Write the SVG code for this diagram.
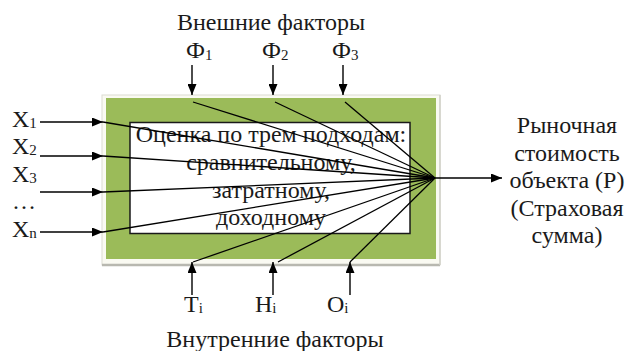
<svg xmlns="http://www.w3.org/2000/svg" width="627" height="351" viewBox="0 0 627 351">
  <defs>
    <marker id="ah" markerUnits="userSpaceOnUse" markerWidth="11" markerHeight="9" refX="11" refY="4.5" orient="auto">
      <path d="M0,0 L11,4.5 L0,9 z" fill="#000"/>
    </marker>
    <style>
      text { font-family: "Liberation Serif", "Times New Roman", serif; font-size: 24px; fill: #1a1a1a; }
      .c { text-anchor: middle; }
      .sub { font-size: 15px; }
      .arrow { stroke: #000; stroke-width: 1.4; fill: none; marker-end: url(#ah); }
      .ray { stroke: #000; stroke-width: 1.3; fill: none; }
    </style>
  </defs>
  <rect x="0" y="0" width="627" height="351" fill="#ffffff"/>

  <g id="evaluation-box">
    <rect x="102" y="95" width="338" height="170" fill="#fafaf2" stroke="#dcdcd2" stroke-width="1"/>
    <line x1="102" y1="265" x2="440" y2="265" stroke="#b8b8b0" stroke-width="2.5"/>
    <line x1="440" y1="95" x2="440" y2="265" stroke="#d0d0c8" stroke-width="1.5"/>
    <rect x="106" y="98" width="330" height="161" fill="#9bbb59"/>
    <rect x="130" y="122.5" width="280" height="111" fill="#ffffff" stroke="#1a1a1a" stroke-width="1.5"/>
    <text class="c" x="271" y="142">Оценка по трем подходам:</text>
    <text class="c" x="271" y="170">сравнительному,</text>
    <text class="c" x="271" y="198">затратному,</text>
    <text class="c" x="271" y="225">доходному</text>
  </g>

  <g id="external-factors">
    <text class="c" x="271" y="30">Внешние факторы</text>
    <text x="186" y="58">Ф<tspan class="sub" dy="2">1</tspan></text>
    <text x="262" y="58">Ф<tspan class="sub" dy="2">2</tspan></text>
    <text x="332" y="58">Ф<tspan class="sub" dy="2">3</tspan></text>
  </g>

  <g id="internal-factors">
    <text x="184" y="312">Т<tspan class="sub" dy="1">i</tspan></text>
    <text x="255" y="312">Н<tspan class="sub" dy="1">i</tspan></text>
    <text x="327" y="312">О<tspan class="sub" dy="1">i</tspan></text>
    <text class="c" x="275" y="347">Внутренние факторы</text>
  </g>

  <g id="inputs">
    <text x="12" y="127">X<tspan class="sub" dy="1">1</tspan></text>
    <text x="12" y="154">X<tspan class="sub" dy="1">2</tspan></text>
    <text x="12" y="182">X<tspan class="sub" dy="1">3</tspan></text>
    <text x="12" y="209">…</text>
    <text x="12" y="237">X<tspan class="sub" dy="1">n</tspan></text>
  </g>

  <g id="output">
    <text class="c" x="567" y="133">Рыночная</text>
    <text class="c" x="567" y="161">стоимость</text>
    <text class="c" x="567" y="188">объекта (Р)</text>
    <text class="c" x="567" y="216">(Страховая</text>
    <text class="c" x="567" y="243">сумма)</text>
  </g>

  <g id="connectors">
    <line class="arrow" x1="40" y1="122" x2="103" y2="122"/>
    <line class="arrow" x1="40" y1="156" x2="103" y2="156"/>
    <line class="arrow" x1="40" y1="192" x2="103" y2="192"/>
    <line class="arrow" x1="40" y1="232" x2="103" y2="232"/>
    <line class="arrow" x1="192" y1="65" x2="192" y2="95"/>
    <line class="arrow" x1="273" y1="65" x2="273" y2="95"/>
    <line class="arrow" x1="343" y1="65" x2="343" y2="95"/>
    <line class="arrow" x1="192" y1="295" x2="192" y2="262"/>
    <line class="arrow" x1="273" y1="295" x2="273" y2="262"/>
    <line class="arrow" x1="350" y1="295" x2="350" y2="262"/>
    <line class="arrow" x1="435" y1="178" x2="502" y2="178"/>
    <line class="ray" x1="103" y1="122" x2="435" y2="178"/>
    <line class="ray" x1="103" y1="156" x2="435" y2="178"/>
    <line class="ray" x1="103" y1="192" x2="435" y2="178"/>
    <line class="ray" x1="103" y1="232" x2="435" y2="178"/>
    <line class="ray" x1="193" y1="102" x2="435" y2="178"/>
    <line class="ray" x1="275" y1="102" x2="435" y2="178"/>
    <line class="ray" x1="345" y1="102" x2="435" y2="178"/>
    <line class="ray" x1="193" y1="262" x2="435" y2="178"/>
    <line class="ray" x1="278" y1="262" x2="435" y2="178"/>
    <line class="ray" x1="350" y1="262" x2="435" y2="178"/>
  </g>
</svg>
